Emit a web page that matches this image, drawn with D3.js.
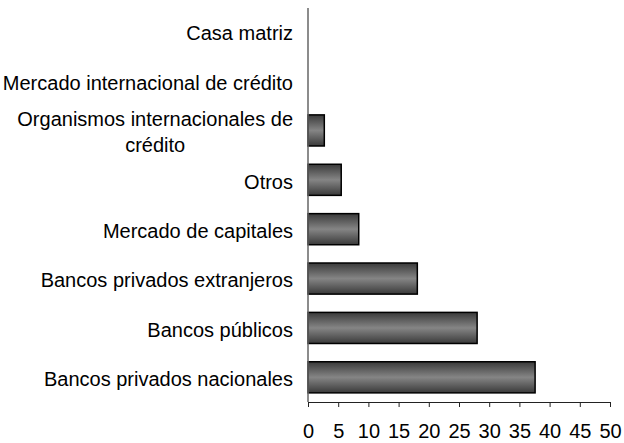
<!DOCTYPE html>
<html>
<head>
<meta charset="utf-8">
<script src="https://cdn.jsdelivr.net/npm/d3@7"></script>
<style>
  html, body { margin: 0; padding: 0; background: #fff; }
  svg { display: block; }
  text { font-family: "Liberation Sans", Arial, sans-serif; fill: #000; }
</style>
</head>
<body>
<svg id="chart" width="624" height="443"></svg>
<script>
const categories = [
  "Casa matriz",
  "Mercado internacional de crédito",
  "Organismos internacionales de crédito",
  "Otros",
  "Mercado de capitales",
  "Bancos privados extranjeros",
  "Bancos públicos",
  "Bancos privados nacionales"
];
const values = [0, 0, 2.7, 5.5, 8.4, 18.1, 28.0, 37.6];
const xTicks = [0, 5, 10, 15, 20, 25, 30, 35, 40, 45, 50];

const svg = d3.select("#chart");
const plotLeft = 308, plotRight = 610, plotTop = 7, plotBottom = 402;

const x = d3.scaleLinear().domain([0, 50]).range([plotLeft, plotRight]);
const y = d3.scaleBand().domain(categories).range([plotTop, plotBottom]).paddingInner(0.37).paddingOuter(0.185);

const defs = svg.append("defs");
const grad = defs.append("linearGradient").attr("id", "barGrad")
  .attr("x1", 0).attr("y1", 0).attr("x2", 0).attr("y2", 1);
grad.append("stop").attr("offset", "0%").attr("stop-color", "#3a3a3a");
grad.append("stop").attr("offset", "50%").attr("stop-color", "#858585");
grad.append("stop").attr("offset", "100%").attr("stop-color", "#3a3a3a");

// bars
const data = categories.map((c, i) => ({ c, v: values[i] }));
svg.append("g").selectAll("rect").data(data.filter(d => d.v > 0)).join("rect")
  .attr("x", x(0))
  .attr("y", d => y(d.c))
  .attr("width", d => x(d.v) - x(0))
  .attr("height", y.bandwidth())
  .attr("fill", "url(#barGrad)")
  .attr("stroke", "#000")
  .attr("stroke-width", 1.5);

// x axis
const xAxis = d3.axisBottom(x).tickValues(xTicks).tickSize(5).tickPadding(17).tickFormat(d3.format("d"));
const gx = svg.append("g").attr("transform", `translate(0,${plotBottom})`).call(xAxis);
gx.select(".domain").attr("stroke", "#222").attr("stroke-width", 1);
gx.selectAll(".tick line").attr("stroke", "#222");
gx.selectAll(".tick text").attr("font-size", 20).attr("font-family", '"Liberation Sans", Arial, sans-serif').attr("fill", "#000");

// y axis line
svg.append("line").attr("x1", plotLeft).attr("x2", plotLeft).attr("y1", 8).attr("y2", plotBottom)
  .attr("stroke", "#666").attr("stroke-width", 1.5);

// category labels (wrapped, right aligned block, centered lines)
const labelRight = 293, maxW = 300, lineH = 26;
const lg = svg.append("g");
categories.forEach(c => {
  const cy = y(c) + y.bandwidth() / 2 + 1.5;
  const probe = lg.append("text").attr("font-size", 20);
  const words = c.split(" ");
  const lines = [];
  let cur = "";
  words.forEach(w => {
    const test = cur ? cur + " " + w : w;
    probe.text(test);
    if (probe.node().getComputedTextLength() > maxW && cur) {
      lines.push(cur);
      cur = w;
    } else cur = test;
  });
  lines.push(cur);
  const widths = lines.map(l => { probe.text(l); return probe.node().getComputedTextLength(); });
  probe.remove();
  const blockW = d3.max(widths);
  const cx = labelRight - blockW / 2;
  const multi = lines.length > 1;
  const t = lg.append("text").attr("font-size", 20).attr("text-anchor", multi ? "middle" : "end");
  lines.forEach((l, i) => {
    t.append("tspan")
      .attr("x", multi ? cx : labelRight)
      .attr("y", cy + (i - (lines.length - 1) / 2) * lineH)
      .attr("dy", "0.36em")
      .text(l);
  });
});
</script>
</body>
</html>
